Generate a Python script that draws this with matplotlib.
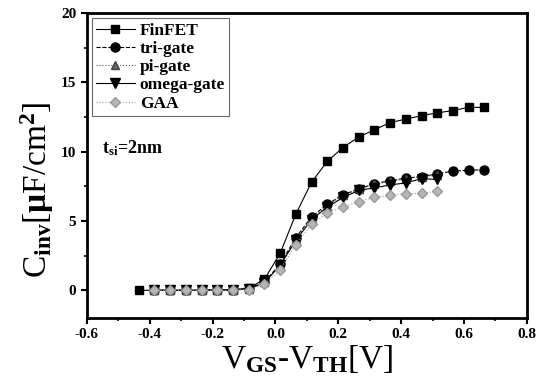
import matplotlib
matplotlib.use("Agg")
import matplotlib.pyplot as plt
import numpy as np
from matplotlib.ticker import MultipleLocator

plt.rcParams["font.family"] = ["Liberation Serif", "DejaVu Serif"]
plt.rcParams["font.weight"] = "bold"
plt.rcParams["mathtext.fontset"] = "custom"
plt.rcParams["mathtext.rm"] = "Liberation Serif:bold"
plt.rcParams["mathtext.it"] = "Liberation Serif:bold"
plt.rcParams["mathtext.bf"] = "Liberation Serif:bold"

# gate overdrive (V), step 0.05 from -0.435
vg = [-0.435, -0.385, -0.335, -0.285, -0.235, -0.185, -0.135, -0.085,
      -0.035, 0.015, 0.065, 0.115, 0.165, 0.215, 0.265, 0.315, 0.365,
      0.415, 0.465, 0.515, 0.565, 0.615, 0.665]

finfet = [0.0, 0.0, 0.0, 0.0, 0.0, 0.02, 0.04, 0.15, 0.8, 2.66, 5.5, 7.8,
          9.3, 10.3, 11.06, 11.58, 12.1, 12.35, 12.6, 12.8, 12.97, 13.2, 13.19]
trigate = [0.0, 0.0, 0.0, 0.0, 0.02, 0.03, 0.1, 0.6, 1.9, 3.8, 5.3, 6.2,
           6.9, 7.3, 7.7, 7.9, 8.1, 8.2, 8.4, 8.6, 8.66, 8.7]
pigate = [0.0, 0.0, 0.0, 0.0, 0.02, 0.03, 0.1, 0.6, 1.85, 3.7, 5.2, 6.1,
          6.85, 7.3, 7.65, 7.85, 8.05, 8.2, 8.3]
omega = [0.0, 0.0, 0.0, 0.0, 0.02, 0.03, 0.1, 0.55, 1.8, 3.6, 5.1, 6.0,
         6.7, 7.2, 7.4, 7.6, 7.75, 8.05, 8.0]
gaa = [0.0, 0.0, 0.0, 0.0, 0.0, 0.02, 0.05, 0.43, 1.5, 3.3, 4.75, 5.6,
       6.0, 6.4, 6.7, 6.86, 6.96, 7.0, 7.15]

fig = plt.figure(figsize=(5.46, 3.85), dpi=100)
ax = fig.add_axes([0.159, 0.174, 0.806, 0.792])

ax.plot(vg, finfet, "-", color="black", lw=0.8, marker="s", ms=6,
        label="FinFET")
ax.plot(vg[1:], trigate, "--", color="black", lw=0.8, marker="o", ms=6.5,
        label="tri-gate")
ax.plot(vg[1:20], pigate, ":", color="#555555", lw=0.8, marker="^", ms=6,
        mfc="#666666", mec="#444444", label="pi-gate")
ax.plot(vg[1:20], omega, "-", color="black", lw=0.8, marker="v", ms=7,
        label="omega-gate")
ax.plot(vg[1:20], gaa, ":", color="#999999", lw=0.8, marker="D", ms=5.5,
        mfc="#b5b5b5", mec="#999999", label="GAA")

ax.set_xlim(-0.6, 0.8)
ax.set_ylim(-2, 20)
ax.xaxis.set_minor_locator(MultipleLocator(0.1))
ax.yaxis.set_minor_locator(MultipleLocator(2.5))
ax.set_xticks(np.arange(-0.6, 0.81, 0.2))
ax.set_xticklabels(["-0.6", "-0.4", "-0.2", "0.0", "0.2", "0.4", "0.6", "0.8"])
ax.set_yticks([0, 5, 10, 15, 20])
ax.tick_params(which="major", direction="out", length=4, width=1.5,
               labelsize=11)
ax.tick_params(which="minor", direction="out", length=2.5, width=1.2)
for s in ax.spines.values():
    s.set_linewidth(2)

ax.set_xlabel(r"V$_{\rm GS}$-V$_{\rm TH}$[V]", fontsize=24, labelpad=1)
ax.set_ylabel(r"C$_{\rm inv}$[$\mu$F/cm$^{\rm 2}$]", fontsize=24)
ax.yaxis.set_label_coords(-0.07, 0.42)

ax.text(0.035, 0.54, r"t$_{\rm si}$=2nm", transform=ax.transAxes,
        fontsize=13, fontweight="bold")

leg = ax.legend(loc="upper left", fontsize=12.5, frameon=True, fancybox=False,
                edgecolor="#444444", handlelength=2.2, handletextpad=0.3,
                borderpad=0.25, labelspacing=0.12, borderaxespad=0.3)
leg.get_frame().set_linewidth(0.8)

fig.savefig("out.png", dpi=100)
